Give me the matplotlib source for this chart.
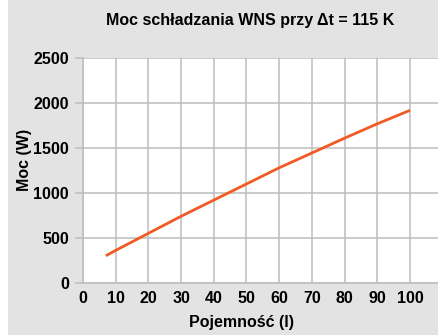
import matplotlib
matplotlib.use("Agg")
import matplotlib.pyplot as plt
from matplotlib.patches import Rectangle

# Cooling power of the WNS unit vs. tank capacity
capacity = [7, 10, 20, 30, 40, 50, 60, 70, 80, 90, 100]
power = [300, 360, 550, 740, 920, 1100, 1280, 1445, 1610, 1770, 1920]

x_ticks = [0, 10, 20, 30, 40, 50, 60, 70, 80, 90, 100]
y_ticks = [0, 500, 1000, 1500, 2000, 2500]

plt.rcParams['font.family'] = ['Liberation Sans', 'DejaVu Sans']
plt.rcParams['font.weight'] = 'bold'

panel_color = '#e2e3e2'
grid_color = '#bdbdbd'
line_color = '#f15a24'

fig = plt.figure(figsize=(4.39, 3.35), dpi=100)
fig.patch.set_facecolor('white')
fig.patches.append(Rectangle((8 / 439, 0), 1 - 8 / 439, 1, transform=fig.transFigure,
                             facecolor=panel_color, edgecolor='none', zorder=-10))

ax = fig.add_axes([83 / 439, 1 - 282.7 / 335, 1 - 83 / 439, (282.7 - 58.3) / 335])
ax.set_facecolor('white')

ax.plot(capacity, power, color=line_color, linewidth=2.0, solid_capstyle='butt', zorder=3)

ax.set_xlim(0, 108.9)
ax.set_ylim(0, 2500)
ax.set_xticks(x_ticks)
ax.set_yticks(y_ticks)
ax.grid(True, color=grid_color, linewidth=1.1)
ax.set_axisbelow(True)

for side in ['top', 'right']:
    ax.spines[side].set_visible(False)
for side in ['left', 'bottom']:
    ax.spines[side].set_color(grid_color)
    ax.spines[side].set_linewidth(1.1)

ax.tick_params(axis='y', length=6, width=1.1, color=grid_color, pad=4, labelsize=11.5)
ax.tick_params(axis='x', length=0, pad=6, labelsize=11.5)
for lab in ax.get_xticklabels() + ax.get_yticklabels():
    lab.set_fontweight('bold')

fig.text(250 / 439, 1 - 20 / 335, 'Moc schładzania WNS przy Δt = 115 K',
         ha='center', va='center', fontsize=11.5, fontweight='bold')
fig.text(241.5 / 439, 1 - 322 / 335, 'Pojemność (l)',
         ha='center', va='center', fontsize=11.5, fontweight='bold')
fig.text(25 / 439, 1 - 160 / 335, 'Moc (W)', rotation=90,
         ha='center', va='center', fontsize=11.5, fontweight='bold')

fig.savefig('out.png', dpi=100, facecolor=fig.get_facecolor())
